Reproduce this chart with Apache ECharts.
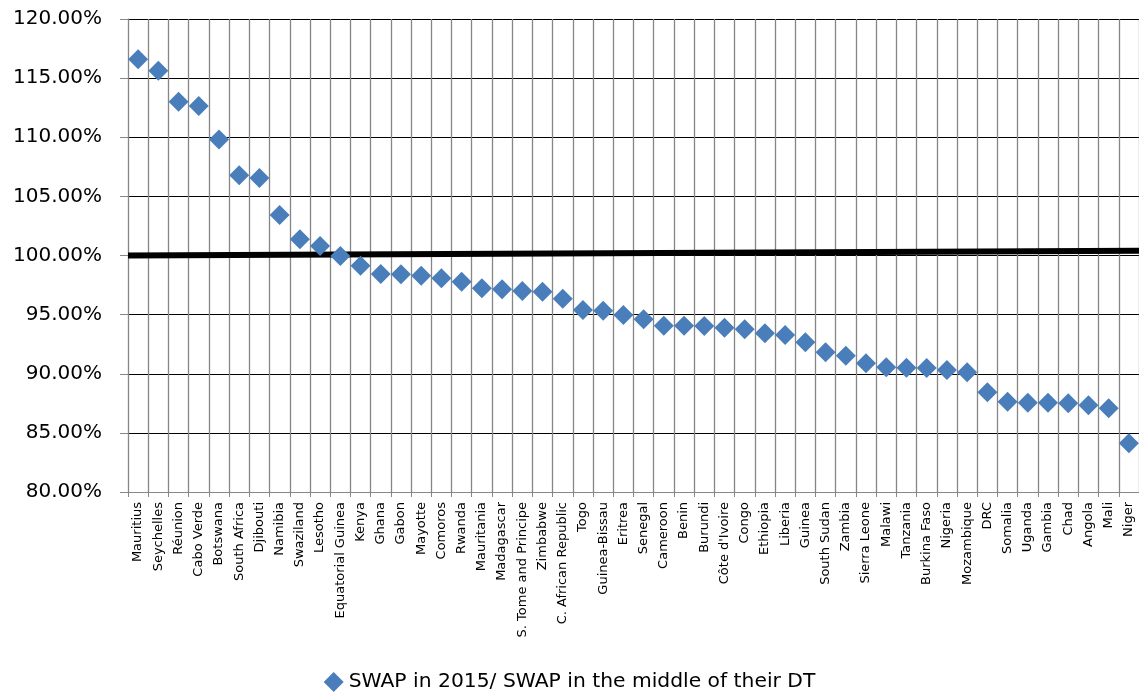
<!DOCTYPE html>
<html>
<head>
<meta charset="utf-8">
<title>SWAP ratio by country</title>
<script src="https://cdn.jsdelivr.net/npm/echarts@6/dist/echarts.min.js"></script>
<style>
  html, body { margin: 0; padding: 0; background: #ffffff; }
  #chart { width: 1139px; height: 695px; }
</style>
</head>
<body>
<div id="chart"></div>
<script>
// Countries, ordered from highest to lowest ratio
const categories = [
  'Mauritius', 'Seychelles', 'Réunion', 'Cabo Verde', 'Botswana', 'South Africa', 'Djibouti',
  'Namibia', 'Swaziland', 'Lesotho', 'Equatorial Guinea', 'Kenya', 'Ghana', 'Gabon', 'Mayotte',
  'Comoros', 'Rwanda', 'Mauritania', 'Madagascar', 'S. Tome and Principe', 'Zimbabwe',
  'C. African Republic', 'Togo', 'Guinea-Bissau', 'Eritrea', 'Senegal', 'Cameroon', 'Benin',
  'Burundi', "Côte d'Ivoire", 'Congo', 'Ethiopia', 'Liberia', 'Guinea', 'South Sudan', 'Zambia',
  'Sierra Leone', 'Malawi', 'Tanzania', 'Burkina Faso', 'Nigeria', 'Mozambique', 'DRC',
  'Somalia', 'Uganda', 'Gambia', 'Chad', 'Angola', 'Mali', 'Niger'
];

// SWAP in 2015 divided by SWAP in the middle of the demographic transition (%)
const ratioValues = [
  116.59, 115.63, 113.01, 112.64, 109.82, 106.78, 106.55,
  103.42, 101.37, 100.80, 99.96, 99.14, 98.43, 98.41, 98.29,
  98.07, 97.78, 97.22, 97.14, 97.00, 96.94,
  96.35, 95.39, 95.33, 94.97, 94.60, 94.06, 94.05,
  94.04, 93.90, 93.76, 93.42, 93.28, 92.66, 91.81, 91.53,
  90.88, 90.54, 90.51, 90.48, 90.32, 90.12, 88.43,
  87.64, 87.55, 87.55, 87.50, 87.33, 87.08, 84.12
];

// Value-axis range and tick step (%)
const yTicks = { min: 80, max: 120, step: 5 };

// Thick 100% reference line: value at the left and right edge of the plot
const parityLine = [100, 100.4];

const seriesName = 'SWAP in 2015/ SWAP in the middle of their DT';
const FONT = '"DejaVu Sans", sans-serif';
const MARK_BLUE = '#4A7EBB';

const chart = echarts.init(document.getElementById('chart'), null, { renderer: 'canvas' });

chart.setOption({
  backgroundColor: '#ffffff',
  animation: false,
  grid: { left: 128, top: 19, width: 1013, height: 473, containLabel: false },
  xAxis: [
    {
      type: 'category',
      data: categories,
      boundaryGap: true,
      axisLine: { show: true, lineStyle: { color: '#868686', width: 1 } },
      axisTick: { show: true, length: 5, lineStyle: { color: '#868686', width: 1 } },
      axisLabel: {
        interval: 0,
        rotate: 90,
        margin: 10,
        color: '#000000',
        fontFamily: FONT,
        fontSize: 13
      },
      splitLine: { show: true, lineStyle: { color: '#868686', width: 1.3 } }
    },
    {
      // hidden linear axis spanning the plot width, used by the reference line
      type: 'value',
      min: 0,
      max: 1,
      show: false,
      position: 'bottom'
    }
  ],
  yAxis: {
    type: 'value',
    min: yTicks.min,
    max: yTicks.max,
    interval: yTicks.step,
    axisLine: { show: true, lineStyle: { color: '#868686', width: 1 } },
    axisTick: { show: true, length: 8, lineStyle: { color: '#868686', width: 1 } },
    axisLabel: {
      margin: 26,
      color: '#000000',
      fontFamily: FONT,
      fontSize: 20,
      formatter: v => v.toFixed(2) + '%'
    },
    splitLine: { show: true, lineStyle: { color: '#000000', width: 1 } }
  },
  legend: {
    data: [{ name: seriesName, icon: 'diamond', itemStyle: { color: MARK_BLUE, opacity: 1 } }],
    left: 'center',
    top: 667,
    itemWidth: 20,
    itemHeight: 20,
    itemGap: 10,
    textStyle: { color: '#000000', fontFamily: FONT, fontSize: 20.3 }
  },
  series: [
    {
      name: 'parity',
      type: 'line',
      xAxisIndex: 1,
      data: [[0, parityLine[0]], [1, parityLine[1]]],
      symbol: 'none',
      lineStyle: { color: '#000000', width: 6 },
      silent: true,
      z: 2
    },
    {
      name: seriesName,
      type: 'scatter',
      xAxisIndex: 0,
      data: ratioValues,
      symbol: 'diamond',
      symbolSize: 20,
      itemStyle: { color: MARK_BLUE, opacity: 1 },
      z: 3
    }
  ]
});
</script>
</body>
</html>
